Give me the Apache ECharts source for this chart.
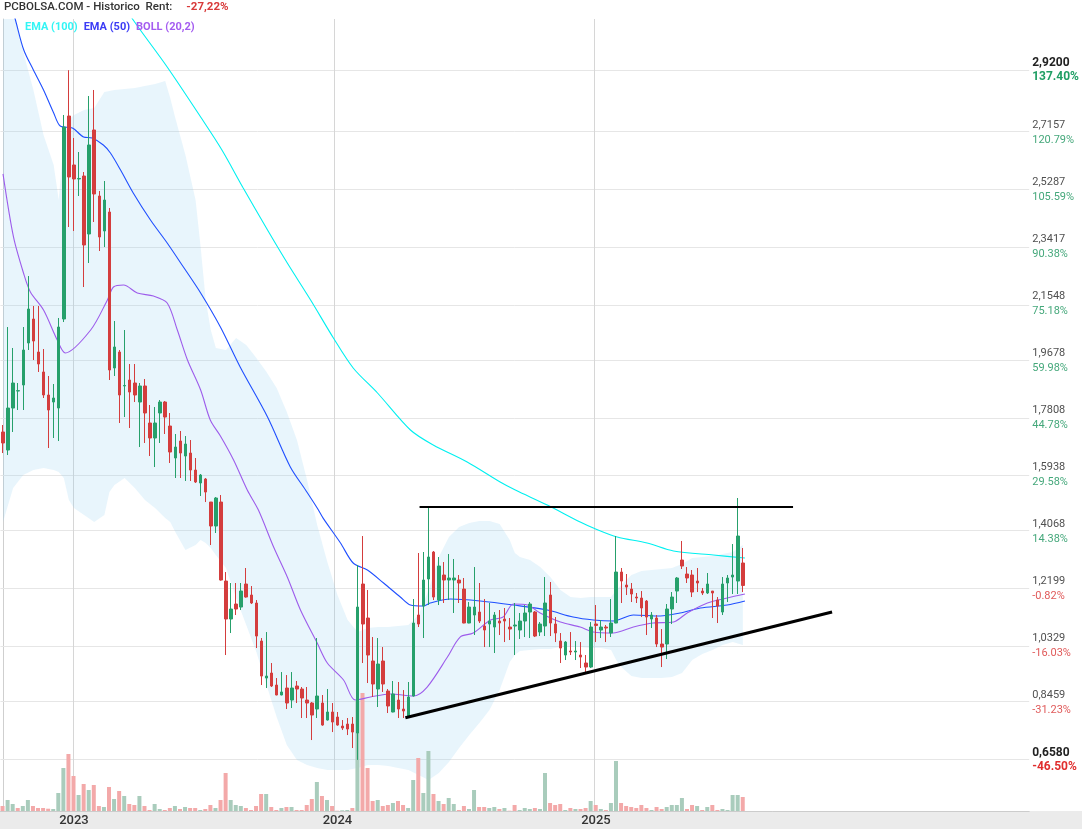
<!DOCTYPE html>
<html><head><meta charset="utf-8">
<script src="https://cdn.jsdelivr.net/npm/echarts@6/dist/echarts.min.js"></script>
<style>html,body{margin:0;padding:0;background:#fff}#c{width:1082px;height:829px}</style>
</head><body><div id="c"></div>
<script>
// ---- weekly OHLC ----
const open = [
1.7334,1.6743,1.8120,1.8678,1.8875,2.0253,2.1040,1.9957,1.9302,1.8547,
1.8317,1.8120,2.1040,2.7698,2.6091,2.5632,2.5730,2.3828,2.7239,2.5074,
2.3926,2.4549,1.9433,1.9957,1.8843,1.9039,1.8941,1.8317,1.8843,1.7629,
1.7137,1.7957,1.8317,1.7530,1.6481,1.7038,1.6546,1.6644,1.6087,1.5661,
1.5792,1.5037,1.4250,1.5037,1.2446,1.1200,1.1692,1.1593,1.2348,1.1987,
1.1725,1.0478,0.9265,0.9429,0.9035,0.8708,0.8937,0.8543,0.9003,0.8904,
0.8543,0.8445,0.8248,0.8445,0.7887,0.8150,0.7985,0.7690,0.7755,0.7755,
0.7461,1.2348,1.1233,0.9823,0.8904,0.9823,0.8838,0.8150,0.8543,0.8248,
0.7985,0.8675,1.1331,1.1626,1.2512,1.3397,1.1823,1.2643,1.2479,1.2479,
1.2479,1.2184,1.1069,1.1331,1.1429,1.0970,1.1036,1.0937,1.1134,1.1200,
1.0937,1.0970,1.0839,1.1134,1.1429,1.1429,1.0774,1.0970,1.1987,1.1036,
1.0478,1.0019,1.0151,1.0118,1.0019,0.9757,0.9625,1.1036,1.0839,1.0937,
1.0741,1.1069,1.2741,1.2315,1.2184,1.1921,1.1889,1.1790,1.1200,1.1233,
1.0380,1.0380,1.1528,1.2118,1.3135,1.2676,1.2643,1.2446,1.2118,1.2053,
1.2118,1.1823,1.1429,1.2381,1.2577,1.2446,1.3037];
const close = [
1.6973,1.8120,1.8941,1.8690,2.0023,2.1368,2.0318,1.9564,1.8547,1.8055,
1.8449,2.0777,2.7337,2.5697,2.5632,2.5650,2.3467,2.6747,2.5140,2.3730,
2.4943,1.9367,2.0122,1.8547,1.8860,1.8645,1.8547,1.8843,1.7957,1.7137,
1.7629,1.8317,1.7825,1.6677,1.6841,1.6644,1.6940,1.6087,1.5694,1.5923,
1.5365,1.4250,1.5169,1.2479,1.1200,1.1528,1.1528,1.2118,1.1921,1.1725,
1.0642,0.9330,0.9330,0.9003,0.8708,0.8807,0.8445,0.8937,0.8904,0.8609,
0.8445,0.8051,0.8675,0.7723,0.8150,0.7821,0.7723,0.7625,0.7592,0.7493,
1.1593,1.1036,1.0019,0.9068,0.9724,0.9068,0.8347,0.8741,0.8248,0.8183,
0.8642,1.1069,1.1036,1.2479,1.3234,1.1921,1.2938,1.2479,1.2545,1.2545,
1.2381,1.1069,1.1593,1.1593,1.1134,1.0839,1.1134,1.1331,1.1069,1.1134,
1.0872,1.1003,1.1134,1.1397,1.1692,1.0642,1.1036,1.1725,1.1069,1.0741,
1.0249,1.0445,1.0118,1.0151,0.9953,0.9625,1.0937,1.0990,1.0937,1.0905,
1.1069,1.2741,1.2446,1.2249,1.2020,1.1889,1.1561,1.1265,1.1331,1.0380,
1.0281,1.1528,1.1921,1.2545,1.2938,1.2545,1.2085,1.2381,1.2053,1.2348,
1.2053,1.1626,1.2348,1.2545,1.2643,1.3922,1.2300];
const high = [
1.7563,2.0777,2.0089,1.8941,2.0777,2.2449,2.1466,2.1466,2.0056,1.9171,
1.8908,2.1073,2.7731,2.9200,2.6977,2.6517,2.5861,2.8354,2.8551,2.5238,
2.5566,2.4681,2.0974,2.0023,2.0679,1.9564,1.9564,1.8941,1.9072,1.8219,
1.8153,1.8383,1.8350,1.7957,1.7268,1.7367,1.7202,1.7071,1.6481,1.5956,
1.5825,1.5037,1.5201,1.5267,1.2741,1.2381,1.2381,1.2381,1.2873,1.2282,
1.1823,1.0577,1.0773,0.9757,0.9265,0.9461,0.9363,0.9461,0.9167,0.8970,
0.8970,0.8478,1.0577,0.8708,0.8904,0.8445,0.8150,0.7887,0.7953,0.7985,
1.2971,1.3922,1.2151,1.0609,1.0577,1.0281,0.8904,0.9167,0.9134,0.8871,
0.9134,1.1856,1.3365,1.3398,1.4874,1.3430,1.3234,1.3069,1.3332,1.3169,
1.2643,1.2545,1.1757,1.2905,1.2381,1.1856,1.1725,1.1429,1.1495,1.1561,
1.1233,1.1725,1.1397,1.1659,1.1757,1.1462,1.1101,1.2577,1.2414,1.1265,
1.0741,1.0478,1.0773,1.0478,1.0445,1.0019,1.1101,1.1659,1.1167,1.1003,
1.1856,1.3922,1.2873,1.2676,1.2381,1.2053,1.2118,1.1823,1.1429,1.1331,
1.0872,1.1692,1.2085,1.2577,1.3759,1.2905,1.2807,1.2873,1.2217,1.2709,
1.2118,1.1921,1.2577,1.2643,1.3660,1.5169,1.3529];
const low = [
1.6644,1.6579,1.7334,1.8055,1.8055,2.0023,1.9695,1.9302,1.8449,1.6809,
1.7137,1.7038,2.0941,2.4057,2.3926,2.5074,2.2089,2.2877,2.4221,2.3270,
2.3401,1.9039,1.9171,1.7629,1.7825,1.7465,1.8317,1.6841,1.6973,1.6546,
1.6185,1.6973,1.7268,1.6317,1.5825,1.5825,1.5727,1.5727,1.5661,1.5234,
1.5037,1.3627,1.4021,1.2460,1.0019,1.0741,1.1331,1.1495,1.1900,1.1692,
1.0249,0.9035,0.8937,0.8970,0.8700,0.8700,0.8248,0.8281,0.8445,0.7953,
0.7953,0.7231,0.7953,0.7700,0.7870,0.7493,0.7700,0.7559,0.7395,0.6969,
0.6580,0.9757,0.9101,0.8642,0.8314,0.8807,0.8117,0.8140,0.7953,0.7953,
0.7965,0.8660,1.0937,1.0577,1.1659,1.1823,1.1659,1.1725,1.1823,1.1397,
1.1725,1.1060,1.1060,1.0675,1.1069,1.0281,1.0281,1.0085,1.0675,1.0445,
1.0511,1.0019,1.0544,1.0609,1.0577,1.0609,1.0642,1.0642,1.0642,1.0445,
0.9757,0.9855,1.0019,0.9855,0.9593,0.9429,0.9593,1.0445,1.0577,1.0445,
1.0609,1.1060,1.1725,1.1987,1.1757,1.1725,1.1265,1.0675,1.0905,1.0281,
0.9625,0.9888,1.1036,1.1725,1.2840,1.2381,1.1921,1.2085,1.1987,1.2020,
1.1233,1.1069,1.1331,1.1757,1.2020,1.2020,1.2085];
// ---- volume (thousands) and its colour (1 = up) ----
const volume = [5,11,7,3,5,11,5,3,3,2.3, 2,18,43,57,35,16,27,21,26,5, 4,24,12,20,15,7,6,15,5,1,
7,2,1,3,5,2,4,3,3,1, 2,6,3,11,38,11,6,5,3,1, 5,17,17,4,1,3,4,4,1,1, 6,12,29,15,11,5,0.3,0.7,1,3,
110,118,43,10,11,5,6,8,10,6, 3,31,53,18,60,17,10,7,13,7, 1,5,2,21,4,4,3,4,2,3,
0.3,6,1,3,2,3,2,38,8,6, 7,1,3,2,2,3,10,6,2,1, 8,50,8,5,4,3,6,3,1,4, 2,4,6,6,13,2,6,5,1,4, 6,1,2,1,16,16,14];
const volUp = [0,1,1,0,1,1,0,0,0,0, 1,1,1,0,0,1,0,1,0,0, 1,0,1,0,1,0,0,1,0,0, 1,1,0,0,1,0,1,0,0,1,
0,0,1,0,0,1,1,1,0,0, 0,0,1,0,0,1,0,1,0,0, 0,0,1,0,1,0,0,1,1,0, 1,0,0,0,1,0,0,1,0,0,
1,1,0,1,1,0,1,0,1,1, 0,0,1,1,0,0,1,1,0,1, 0,0,1,1,1,0,1,1,0,0, 0,1,0,1,0,0,1,0,1,0,
1,1,0,0,0,0,0,0,1,0, 0,1,1,1,1,0,0,1,0,1, 0,0,1,1,1,1,0];
// ---- indicators [week index, value] ----
const ema100 = [[23.2,3.1536],[25.7,3.0847],[32.4,2.9305],[39.0,2.7665],[43.2,2.6583],[47.4,2.5337],[52.2,2.3959],
[56.1,2.2876],[60.7,2.1663],[65.2,2.0417],[69.1,1.9433],[73.9,1.8613],[80.4,1.7399],[84.9,1.6907],[91.6,1.6349],
[98.1,1.5693],[101.1,1.5431],[107.4,1.4939],[113.9,1.4381],[116.5,1.4185],[121.2,1.3890],[127.1,1.3693],
[132.3,1.3431],[140.2,1.3299],[146.4,1.3201]];
const ema50 = [[0,3.232],[2.46,3.0847],[4.1,2.9863],[6.0,2.9207],[8.0,2.8551],[10.0,2.7797],[11.3,2.7370],[13.7,2.7305],
[15.9,2.7010],[17.6,2.6977],[19.8,2.6747],[21.2,2.6485],[23.2,2.5927],[25.7,2.5173],[29.1,2.4287],[32.4,2.3533],
[35.6,2.2745],[39.0,2.1893],[42.9,2.0778],[46.8,1.9465],[52.2,1.7825],[56.7,1.6185],[59.7,1.5431],[62.0,1.4841],
[63.2,1.4500],[66.6,1.3693],[69.1,1.3037],[71.9,1.2807],[75.1,1.2381],[78.4,1.1921],[80.4,1.1659],[82.9,1.1626],
[84.3,1.1725],[88.3,1.1856],[94.2,1.1790],[100.7,1.1659],[107.4,1.1495],[112.5,1.1265],[116.5,1.1167],
[120.4,1.1134],[124.4,1.1331],[129.7,1.1298],[133.6,1.1397],[137.6,1.1561],[142.9,1.1659],[146.4,1.1790]];
const bollMid = [[0,2.58],[2.07,2.3730],[4.04,2.2549],[5.4,2.1926],[8.0,2.1335],[10.7,2.0351],[12.3,1.9925],
[17.3,2.0679],[20.6,2.1663],[21.8,2.2089],[23.8,2.2155],[26.5,2.1893],[29.7,2.1794],[32.4,2.1565],[34.4,2.0679],
[36.4,1.9695],[39.0,1.8711],[40.9,1.7727],[42.9,1.7202],[45.5,1.6415],[48.2,1.5431],[50.4,1.4775],[53.4,1.3562],
[56.1,1.2577],[58.7,1.1495],[62.0,1.0412],[64.0,0.9757],[67.2,0.9199],[69.5,0.8543],[72.5,0.8642],[76.4,0.8741],
[81.0,0.8675],[83.7,0.8970],[87.7,0.9953],[90.2,1.0609],[92.8,1.0741],[96.2,1.1167],[98.7,1.1265],[100.7,1.1692],
[103.5,1.1659],[106.0,1.1397],[110.0,1.1101],[113.9,1.0937],[116.5,1.0773],[120.4,1.0741],[124.4,1.0937],
[128.3,1.1069],[132.3,1.1101],[135.0,1.1397],[139.0,1.1725],[142.9,1.1889],[146.4,1.2020]];
const bandIdx = [0,2,4,6,8,10,11,12,13,14,16,18,20,21,22,24,26,28,30,32,33,34,36,38,39,40,41,42,44,46,48,50,52,54,56,58,
60,62,64,66,68,70,72,74,76,78,80,82,84,86,88,90,92,94,96,98,100,101,102,104,106,108,110,112,114,116,118,120,121,122,
124,126,128,130,132,134,136,138,140,142,144,146];
const bandUpper = [3.2159,3.1175,2.9797,2.8551,2.7075,2.6091,2.4943,2.6911,2.7567,2.7731,2.7895,2.7961,2.8485,2.8518,
2.8551,2.8584,2.8617,2.8682,2.8748,2.8846,2.8289,2.7633,2.6419,2.4943,2.3401,2.1663,2.0679,2.0089,2.0023,2.0417,2.0187,
1.9761,1.9302,1.8777,1.7990,1.7071,1.5759,1.4283,1.3069,1.1987,1.1167,1.0773,1.0905,1.0937,1.0937,1.0970,1.1003,1.1331,
1.2151,1.3234,1.3890,1.4217,1.4349,1.4414,1.4414,1.4316,1.3791,1.3365,1.3234,1.3135,1.2905,1.2577,1.2151,1.1921,1.1889,
1.1921,1.1921,1.1921,1.2151,1.2315,1.2643,1.2774,1.2807,1.2840,1.2873,1.3004,1.3201,1.3234,1.3267,1.3332,1.3398,1.3627];
const bandLower = [1.4381,1.5496,1.5923,1.6087,1.6153,1.6087,1.6021,1.5825,1.5103,1.4841,1.4611,1.4381,1.4611,1.5365,
1.5595,1.5825,1.5496,1.5103,1.4841,1.4513,1.4381,1.4053,1.3463,1.3627,1.3791,1.3693,1.3529,1.3299,1.2873,1.1889,1.1003,
1.0117,0.9035,0.7985,0.7067,0.6575,0.6411,0.6313,0.6247,0.6247,0.6247,0.6313,0.6411,0.6411,0.6378,0.6313,0.6247,0.6083,
0.5919,0.6149,0.6510,0.6969,0.7395,0.7789,0.8215,0.8871,0.9790,1.0019,1.0150,1.0183,1.0216,1.0216,1.0281,1.0281,1.0281,
1.0249,1.0249,1.0183,0.9855,0.9625,0.9330,0.9265,0.9265,0.9265,0.9297,0.9429,0.9855,1.0052,1.0183,1.0347,1.0445,1.0347];
// ---- trend lines [week index, price] ----
const resistance = [[82.2,1.4874],[155.9,1.4874]];
const support = [[79.4,0.7964],[163.6,1.1431]];
// ---- axis ticks ----
const priceTicks = [0.658,0.8459,1.0329,1.2199,1.4068,1.5938,1.7808,1.9678,2.1548,2.3417,2.5287,2.7157,2.92];
const priceLabels = ['0,6580','0,8459','1,0329','1,2199','1,4068','1,5938','1,7808','1,9678','2,1548','2,3417','2,5287','2,7157','2,9200'];
const pctLabels = ['-46.50%','-31.23%','-16.03%','-0.82%','14.38%','29.58%','44.78%','59.98%','75.18%','90.38%','105.59%','120.79%','137.40%'];
const yearLinePos = [13.9,65.4,116.7];
const yearLabelIdx = [14,66,117];
const yearLabels = ['2023','2024','2025'];
const NCAT = 203;

const cats = Array.from({length: NCAT}, (_, i) => String(i));
const candles = open.map((o, i) => [o, close[i], low[i], high[i]]);
const volData = volume.map((v, i) => ({value: v, itemStyle: {color: volUp[i] ? '#a9ccbc' : '#f3a9a9'}}));
const F = 'Roboto, "Noto Sans", sans-serif';

const chart = echarts.init(document.getElementById('c'), null, {renderer: 'canvas'});
chart.setOption({
  animation: false,
  backgroundColor: '#ffffff',
  textStyle: {fontFamily: F},
  title: [
    {left: 4, top: 1, padding: 0, text: '{a|PCBOLSA.COM - Historico  Rent:}{b|-27,22%}',
     textStyle: {rich: {a: {fontSize: 11.5, fontWeight: 500, color: '#333', fontFamily: F},
                        b: {fontSize: 11.5, color: '#d83a3a', padding: [0,0,0,14], fontFamily: F}}}},
    {left: 25, top: 22, padding: 0, text: '{a|EMA (100)}{b|EMA (50)}{c|BOLL (20,2)}',
     textStyle: {rich: {a: {fontSize: 11, color: '#33f5f5', fontFamily: F},
                        b: {fontSize: 11, color: '#3b3bf5', padding: [0,0,0,6], fontFamily: F},
                        c: {fontSize: 11, color: '#a45cf0', padding: [0,0,0,6], fontFamily: F}}}}
  ],
  graphic: [{type: 'rect', z: -10, shape: {x: 0, y: 811, width: 1082, height: 18}, style: {fill: '#ebebeb'}}],
  grid: [
    {left: 0, right: 52.8, top: 19, bottom: 18},
    {left: 0, right: 52.8, top: 671, bottom: 18}
  ],
  xAxis: [
    {type: 'category', gridIndex: 0, data: cats, boundaryGap: true,
     axisLine: {show: true, lineStyle: {color: '#cccccc'}}, axisTick: {show: false}, splitLine: {show: false},
     axisLabel: {interval: 0, margin: 3, fontSize: 13, fontWeight: 500, color: '#333', fontFamily: F,
       formatter: (v, idx) => { const k = yearLabelIdx.indexOf(idx); return k >= 0 ? yearLabels[k] : ''; }}},
    {type: 'value', gridIndex: 0, min: -0.5, max: NCAT - 0.5, show: false},
    {type: 'category', gridIndex: 1, data: cats, boundaryGap: true, show: false}
  ],
  yAxis: [
    {type: 'value', gridIndex: 0, position: 'right', min: 0.49035, max: 3.08795, scale: true,
     splitLine: {show: false}, axisTick: {show: false},
     axisLine: {show: true, lineStyle: {color: '#cfcfcf'}},
     axisLabel: {customValues: priceTicks, margin: 3, fontFamily: F,
       formatter: (val) => {
         const k = priceTicks.findIndex(t => Math.abs(t - val) < 1e-6);
         if (k < 0) return '';
         const edge = (k === 0 || k === priceTicks.length - 1);
         const neg = pctLabels[k].charAt(0) === '-';
         return '{' + (edge ? 'pb' : 'p') + '|' + priceLabels[k] + '}\n{' + (neg ? 'r' : 'g') + (edge ? 'b' : '') + '|' + pctLabels[k] + '}';
       },
       rich: {
         p: {fontSize: 11, color: '#505050', lineHeight: 15, fontFamily: F},
         pb: {fontSize: 12, color: '#222', fontWeight: 'bold', lineHeight: 14, fontFamily: F},
         g: {fontSize: 11, color: '#45a87b', lineHeight: 15, fontFamily: F},
         r: {fontSize: 11, color: '#e05a5a', lineHeight: 15, fontFamily: F},
         gb: {fontSize: 12, color: '#1f9e64', fontWeight: 'bold', lineHeight: 14, fontFamily: F},
         rb: {fontSize: 12, color: '#e02e2e', fontWeight: 'bold', lineHeight: 14, fontFamily: F}
       }}},
    {type: 'value', gridIndex: 1, min: 0, max: 140, show: false}
  ],
  series: [
    {type: 'custom', name: 'band', xAxisIndex: 1, yAxisIndex: 0, z: 1, clip: true, silent: true,
     data: [[0, 1]], encode: {x: 0, y: 1},
     renderItem: (params, api) => {
       if (params.dataIndex !== 0) return null;
       const pts = [];
       for (let k = 0; k < bandIdx.length; k++) pts.push(api.coord([bandIdx[k], bandUpper[k]]));
       for (let k = bandIdx.length - 1; k >= 0; k--) pts.push(api.coord([bandIdx[k], bandLower[k]]));
       return {type: 'polygon', shape: {points: pts}, style: {fill: 'rgba(140,205,238,0.2)'}};
     }},
    {type: 'line', name: 'grid', xAxisIndex: 1, yAxisIndex: 0, data: [[-10, 1]], symbol: 'none',
     lineStyle: {opacity: 0}, silent: true,
     markLine: {z: 1, silent: true, symbol: ['none', 'none'], label: {show: false}, animation: false,
       data: priceTicks.map(v => ({yAxis: v, lineStyle: {color: '#e6e6e6', width: 1, type: 'solid'}}))
         .concat(yearLinePos.map(x => ({xAxis: x, lineStyle: {color: '#d6d6d6', width: 1, type: 'solid'}})))}},
    {type: 'bar', name: 'vol', xAxisIndex: 2, yAxisIndex: 1, data: volData, barWidth: 4, z: 2, silent: true},
    {type: 'line', name: 'EMA (100)', xAxisIndex: 1, yAxisIndex: 0, data: ema100, symbol: 'none', smooth: 0.3,
     lineStyle: {color: '#00f0f0', width: 1.1}, z: 2},
    {type: 'line', name: 'EMA (50)', xAxisIndex: 1, yAxisIndex: 0, data: ema50, symbol: 'none', smooth: 0.3,
     lineStyle: {color: '#1f4fff', width: 1.1}, z: 2},
    {type: 'line', name: 'BOLL (20,2)', xAxisIndex: 1, yAxisIndex: 0, data: bollMid, symbol: 'none', smooth: 0.3,
     lineStyle: {color: '#9d5ceb', width: 1.1}, z: 2},
    {type: 'candlestick', name: 'price', xAxisIndex: 0, yAxisIndex: 0, data: candles, barWidth: 3, z: 3,
     itemStyle: {color: '#26a06b', color0: '#d43d3d', borderColor: '#26a06b', borderColor0: '#d43d3d', borderWidth: 1}},
    {type: 'line', name: 'res', xAxisIndex: 1, yAxisIndex: 0, data: resistance, symbol: 'none',
     lineStyle: {color: '#000', width: 2}, z: 4},
    {type: 'line', name: 'sup', xAxisIndex: 1, yAxisIndex: 0, data: support, symbol: 'none',
     lineStyle: {color: '#000', width: 3}, z: 4}
  ]
});
</script></body></html>
